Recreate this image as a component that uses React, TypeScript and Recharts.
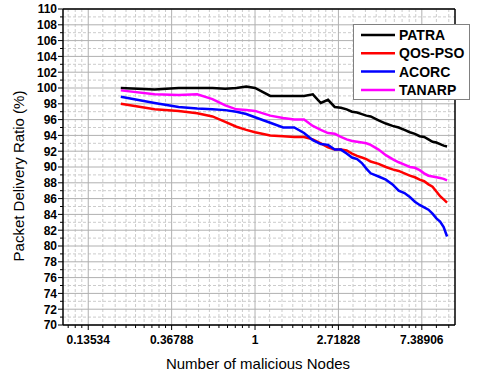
import React from "react";
import { LineChart, Line, XAxis, YAxis, CartesianGrid, Legend, ReferenceLine } from "recharts";

// number of malicious nodes (x, natural-log axis)
const nodes = [
	0.2, 0.3, 0.4, 0.5, 0.6, 0.7, 0.8, 0.9, 1.0,
	1.2, 1.4, 1.6, 1.8, 2.0, 2.2, 2.4, 2.6, 2.8, 3.0, 3.2, 3.4, 3.6, 3.8, 4.0,
	4.4, 4.8, 5.2, 5.6, 6.0, 6.4, 6.8, 7.2, 7.6, 8.0, 8.4, 8.8, 9.2, 9.6, 10,
];

const patra = [
	100.0, 99.8, 100.0, 100.0, 100.0, 99.9, 100.0, 100.2, 100.0,
	99.0, 99.0, 99.0, 99.0, 99.2, 98.1, 98.5, 97.6, 97.5, 97.3, 97.0, 96.9, 96.7, 96.5, 96.4,
	95.9, 95.5, 95.2, 95.0, 94.7, 94.4, 94.2, 93.9, 93.8, 93.5, 93.2, 93.1, 92.9, 92.7, 92.6,
];
const qosPso = [
	98.0, 97.3, 97.1, 96.8, 96.4, 95.7, 95.1, 94.7, 94.4,
	94.0, 93.9, 93.8, 93.8, 93.5, 93.0, 92.5, 92.2, 92.2, 92.1, 91.7, 91.4, 91.2, 91.0, 90.7,
	90.4, 90.0, 89.7, 89.5, 89.2, 88.9, 88.7, 88.4, 88.2, 87.8, 87.5, 86.9, 86.3, 85.9, 85.5,
];
const acorc = [
	98.9, 98.1, 97.6, 97.4, 97.3, 97.2, 97.0, 96.7, 96.3,
	95.6, 95.0, 95.0, 94.3, 93.4, 92.9, 92.8, 92.2, 92.2, 91.7, 91.2, 91.0, 90.5, 89.8, 89.2,
	88.8, 88.4, 87.8, 87.0, 86.7, 86.2, 85.6, 85.2, 84.9, 84.6, 84.1, 83.5, 83.1, 82.4, 81.2,
];
const tanarp = [
	99.7, 99.2, 99.1, 99.2, 98.6, 97.8, 97.3, 97.2, 97.1,
	96.5, 96.2, 96.0, 96.0, 95.2, 94.7, 94.3, 94.2, 93.8, 93.5, 93.3, 93.2, 93.1, 93.0, 92.8,
	92.2, 91.5, 91.0, 90.6, 90.3, 90.0, 89.9, 89.6, 89.2, 88.9, 88.8, 88.7, 88.6, 88.5, 88.3,
];

const xMajor = [0.13534, 0.36788, 1, 2.71828, 7.38906];
const xMinor = [
	0.1064, 0.1158, 0.1253,
	0.1612, 0.1870, 0.2129, 0.2387, 0.2645, 0.2904, 0.3162, 0.3420,
	0.4381, 0.5083, 0.5786, 0.6488, 0.7191, 0.7893, 0.8596, 0.9298,
	1.1909, 1.3818, 1.5727, 1.7636, 1.9546, 2.1455, 2.3364, 2.5273,
	3.2374, 3.7565, 4.2755, 4.7946, 5.3137, 5.8327, 6.3518, 6.8709,
	8.7999, 10.2107,
];
const yMajor = [70, 72, 74, 76, 78, 80, 82, 84, 86, 88, 90, 92, 94, 96, 98, 100, 102, 104, 106, 108, 110];
const yMinor = [71, 73, 75, 77, 79, 81, 83, 85, 87, 89, 91, 93, 95, 97, 99, 101, 103, 105, 107, 109];

const series = [
	{ key: "PATRA", values: patra, color: "#000000" },
	{ key: "QOS-PSO", values: qosPso, color: "#ff0000" },
	{ key: "ACORC", values: acorc, color: "#0000ff" },
	{ key: "TANARP", values: tanarp, color: "#ff00ff" },
];

const chartData = nodes.map((n, i) => {
	const row: Record<string, number> = { nodes: n };
	series.forEach(s => { row[s.key] = s.values[i]; });
	return row;
});

const FONT = "'Liberation Sans', Arial, sans-serif";

const XTick = (props: any) => {
	const { x, y, payload } = props;
	const major = xMajor.includes(payload.value);
	return (
		<g>
			<line x1={x} y1={y} x2={x} y2={y + (major ? 5 : 3)} stroke="#000" strokeWidth={1} />
			{major && (
				<text x={x} y={y + 19} textAnchor="middle" fontFamily={FONT} fontSize={12} fontWeight="bold" fill="#000">
					{String(payload.value)}
				</text>
			)}
		</g>
	);
};

const YTick = (props: any) => {
	const { x, y, payload } = props;
	const major = yMajor.includes(payload.value);
	return (
		<g>
			<line x1={x} y1={y} x2={x - (major ? 5 : 3)} y2={y} stroke="#000" strokeWidth={1} />
			{major && (
				<text x={x - 6} y={y + 4.3} textAnchor="end" fontFamily={FONT} fontSize={12} fontWeight="bold" fill="#000">
					{payload.value}
				</text>
			)}
		</g>
	);
};

const LegendBox = () => (
	<svg width={117} height={76}>
		<rect x={0.5} y={0.5} width={116} height={75} fill="#fff" stroke="#808080" />
		{series.map((s, i) => {
			const cy = 11 + i * 18.3;
			return (
				<g key={s.key}>
					<line x1={8} y1={cy} x2={42} y2={cy} stroke={s.color} strokeWidth={2.5} />
					<text x={46} y={cy + 5} fontFamily={FONT} fontSize={14} fontWeight="bold" fill="#000">
						{s.key}
					</text>
				</g>
			);
		})}
	</svg>
);

export default function App() {
	return (
		<div style={{ position: "absolute", left: 0, top: 0, background: "#fff" }}>
			<LineChart width={480} height={373} data={chartData} margin={{ top: 9, right: 25, bottom: 0, left: 0 }}>
				<CartesianGrid
					stroke="#cccccc"
					strokeDasharray="3 2"
					horizontalValues={yMinor}
					verticalValues={xMinor}
				/>
				<CartesianGrid
					stroke="#b0b0b0"
					horizontalValues={yMajor}
					verticalValues={xMajor}
				/>
				<XAxis
					dataKey="nodes"
					type="number"
					scale="log"
					domain={[0.1, 11]}
					allowDataOverflow
					ticks={[...xMinor, ...xMajor].sort((a, b) => a - b)}
					interval={0}
					tickSize={0}
					tickMargin={0}
					tick={<XTick />}
					height={48}
					stroke="#000"
					strokeWidth={1.5}
					label={{
						content: () => (
							<text x={258} y={369} textAnchor="middle" fontFamily={FONT} fontSize={15} fill="#000">
								Number of malicious Nodes
							</text>
						),
					}}
				/>
				<YAxis
					type="number"
					domain={[70, 110]}
					allowDataOverflow
					ticks={[...yMinor, ...yMajor].sort((a, b) => a - b)}
					interval={0}
					tickSize={0}
					tickMargin={0}
					tick={<YTick />}
					width={63}
					stroke="#000"
					strokeWidth={1.5}
					label={{
						content: () => (
							<text x={24} y={176} transform="rotate(-90 24 176)" textAnchor="middle" fontFamily={FONT} fontSize={15} fill="#000">
								Packet Delivery Ratio (%)
							</text>
						),
					}}
				/>
				<ReferenceLine y={110} stroke="#000" strokeWidth={1.5} />
				<ReferenceLine x={11} stroke="#000" strokeWidth={1.5} />
				{series.map(s => (
					<Line
						key={s.key}
						dataKey={s.key}
						type="linear"
						stroke={s.color}
						strokeWidth={2.5}
						dot={false}
						isAnimationActive={false}
					/>
				))}
				<Legend
					layout="vertical"
					align="center"
					verticalAlign="middle"
					content={<LegendBox />}
					wrapperStyle={{ left: 353, top: 24, width: 117, height: 76 }}
				/>
			</LineChart>
		</div>
	);
}
